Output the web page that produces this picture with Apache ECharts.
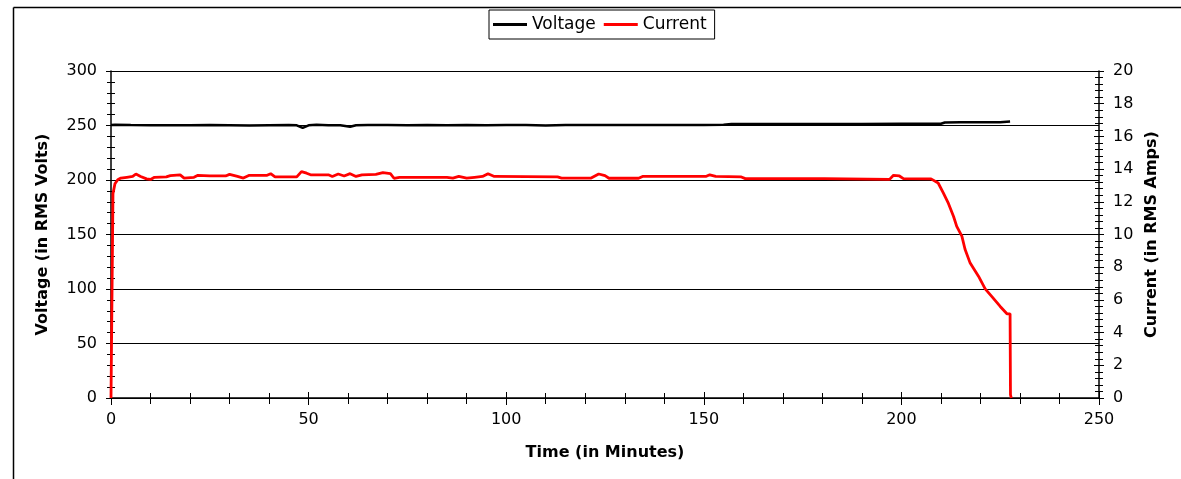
<!DOCTYPE html>
<html>
<head>
<meta charset="utf-8">
<script src="https://cdn.jsdelivr.net/npm/echarts@6/dist/echarts.min.js"></script>
<style>
html,body{margin:0;padding:0;background:#fff;}
#chart{width:1181px;height:479px;}
</style>
</head>
<body>
<div id="chart"></div>
<script>
// ---- Data ----
const voltTime = [0, 0.5, 1, 5, 10, 20, 25, 30, 35, 40, 45, 47, 48.5, 50, 52, 55, 58, 60.5, 62, 65, 70, 75, 80, 85, 90, 95, 100, 105, 110, 115, 120, 130, 140, 150, 155, 157, 160, 170, 180, 190, 200, 210, 211, 215, 220, 225, 227.5];
const voltValues = [250.5, 252, 250.6, 250.4, 250.3, 250.2, 250.4, 250.3, 250.1, 250.3, 250.4, 250.2, 247.8, 250.2, 250.6, 250.3, 250.2, 248.8, 250.3, 250.4, 250.5, 250.3, 250.4, 250.2, 250.4, 250.3, 250.5, 250.4, 250.1, 250.5, 250.4, 250.5, 250.4, 250.5, 250.6, 251.4, 251.3, 251.4, 251.3, 251.4, 251.5, 251.6, 252.8, 252.9, 253.0, 253.0, 253.6];

const currTime = [0, 0.3, 0.5, 1.0, 1.7, 2.5, 4, 5.5, 6.3, 7.5, 9, 10, 11, 14, 15, 17.5, 18.5, 21, 22, 25, 29, 30, 32, 33.5, 35, 39.5, 40.4, 41.5, 47, 48.2, 49.5, 50.5, 55, 56, 57.5, 59, 60.5, 62, 63.5, 67, 68.8, 70.7, 71.6, 73, 85, 86.5, 88, 90, 92, 94, 95.4, 97, 113, 114, 121.5, 123.4, 125, 126, 133.5, 134.5, 144, 150.5, 151.5, 153, 159.5, 160.5, 180.5, 181, 197, 198, 199.5, 200.5, 207.5, 209.3, 210.6, 211.9, 213.2, 214, 215.3, 216.1, 217.4, 219.5, 221.2, 222.9, 225, 226.7, 227.5, 227.6, 227.8];
const currValues = [0, 0, 12.5, 13.1, 13.35, 13.45, 13.5, 13.55, 13.7, 13.55, 13.4, 13.37, 13.5, 13.52, 13.6, 13.65, 13.45, 13.5, 13.62, 13.58, 13.58, 13.68, 13.55, 13.45, 13.62, 13.62, 13.72, 13.52, 13.52, 13.85, 13.75, 13.65, 13.65, 13.55, 13.7, 13.58, 13.72, 13.55, 13.65, 13.68, 13.78, 13.72, 13.44, 13.5, 13.5, 13.45, 13.55, 13.45, 13.5, 13.55, 13.72, 13.55, 13.52, 13.45, 13.45, 13.7, 13.6, 13.44, 13.44, 13.55, 13.55, 13.55, 13.65, 13.55, 13.52, 13.42, 13.42, 13.37, 13.37, 13.62, 13.58, 13.42, 13.4, 13.15, 12.55, 11.9, 11.1, 10.5, 9.9, 9.1, 8.25, 7.45, 6.67, 6.2, 5.6, 5.15, 5.15, 0.2, 0];

const seriesNames = ['Voltage', 'Current'];
const xTitle = 'Time (in Minutes)';
const yLeftTitle = 'Voltage (in RMS Volts)';
const yRightTitle = 'Current (in RMS Amps)';

// ---- Chart ----
const FONT = 'DejaVu Sans';
const chart = echarts.init(document.getElementById('chart'), null, {renderer: 'canvas'});

function tickSet(inside, showLabel, len) {
  return {
    axisTick: {show: true, inside: inside, length: len, lineStyle: {color: '#000', width: 1}},
    minorTick: {show: true, splitNumber: 5, length: len - 1, lineStyle: {color: '#000', width: 1}},
    axisLabel: showLabel ? {show: true, color: '#000', fontFamily: FONT, fontSize: 16, margin: 14} : {show: false}
  };
}

const option = {
  animation: false,
  backgroundColor: '#fff',
  textStyle: {fontFamily: FONT},
  legend: {
    left: 489, top: 10,
    data: seriesNames,
    icon: 'rect',
    itemWidth: 34, itemHeight: 3, itemGap: 8,
    padding: [6, 8, 6, 4],
    borderColor: '#000', borderWidth: 1,
    textStyle: {color: '#000', fontFamily: FONT, fontSize: 17}
  },
  grid: {left: 111, top: 71, width: 988, height: 327, containLabel: false},
  xAxis: [
    Object.assign({
      type: 'value', min: 0, max: 250, interval: 50, position: 'bottom',
      axisLine: {show: true, onZero: false, lineStyle: {color: '#000', width: 1.5}},
      splitLine: {show: false},
      name: xTitle, nameLocation: 'middle', nameGap: 47,
      nameTextStyle: {color: '#000', fontFamily: FONT, fontWeight: 'bold', fontSize: 16}
    }, tickSet(false, true, 7)),
    Object.assign({
      type: 'value', min: 0, max: 250, interval: 50, position: 'bottom',
      axisLine: {show: false, onZero: false}, splitLine: {show: false}
    }, tickSet(true, false, 6))
  ],
  yAxis: [
    Object.assign({
      type: 'value', min: 0, max: 300, interval: 50, position: 'left',
      axisLine: {show: true, onZero: false, lineStyle: {color: '#000', width: 1.5}},
      splitLine: {show: true, lineStyle: {color: '#000', width: 1}},
      name: yLeftTitle, nameLocation: 'middle', nameGap: 60, nameRotate: 90,
      nameTextStyle: {color: '#000', fontFamily: FONT, fontWeight: 'bold', fontSize: 16}
    }, tickSet(false, true, 5)),
    Object.assign({
      type: 'value', min: 0, max: 20, interval: 2, position: 'right',
      axisLine: {show: true, onZero: false, lineStyle: {color: '#000', width: 1.5}},
      splitLine: {show: false},
      name: yRightTitle, nameLocation: 'middle', nameGap: 45, nameRotate: 90,
      nameTextStyle: {color: '#000', fontFamily: FONT, fontWeight: 'bold', fontSize: 16}
    }, tickSet(false, true, 5)),
    Object.assign({
      type: 'value', min: 0, max: 300, interval: 50, position: 'left',
      axisLine: {show: false, onZero: false}, splitLine: {show: false}
    }, tickSet(true, false, 5)),
    Object.assign({
      type: 'value', min: 0, max: 20, interval: 2, position: 'right',
      axisLine: {show: false, onZero: false}, splitLine: {show: false}
    }, tickSet(true, false, 5))
  ],
  series: [
    {
      name: seriesNames[0], type: 'line', xAxisIndex: 0, yAxisIndex: 0,
      showSymbol: false, symbol: 'none',
      lineStyle: {color: '#000', width: 2.5}, itemStyle: {color: '#000'},
      data: voltTime.map((t, i) => [t, voltValues[i]])
    },
    {
      name: seriesNames[1], type: 'line', xAxisIndex: 0, yAxisIndex: 1,
      showSymbol: false, symbol: 'none',
      lineStyle: {color: '#ff0000', width: 2.8}, itemStyle: {color: '#ff0000'},
      data: currTime.map((t, i) => [t, currValues[i]])
    }
  ],
  graphic: [
    {type: 'line', shape: {x1: 13.5, y1: 7.5, x2: 1181, y2: 7.5}, style: {stroke: '#000', lineWidth: 1.5}, silent: true},
    {type: 'line', shape: {x1: 13.5, y1: 7.5, x2: 13.5, y2: 479}, style: {stroke: '#000', lineWidth: 1.5}, silent: true}
  ]
};
chart.setOption(option);
</script>
</body>
</html>
